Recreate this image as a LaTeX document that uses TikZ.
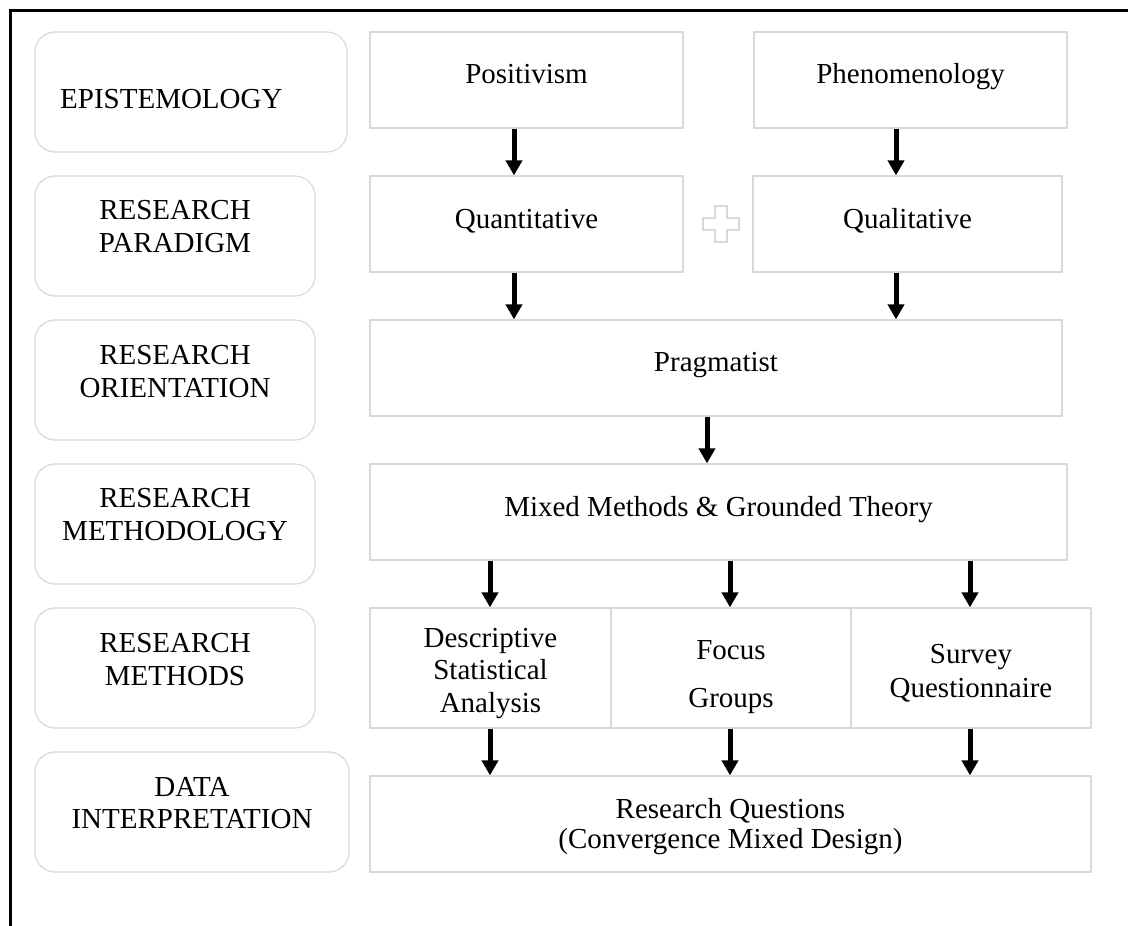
\documentclass[tikz,border=0pt]{standalone}
\usepackage{fontspec}
\setmainfont{Liberation Serif}
\usetikzlibrary{arrows.meta}
\definecolor{boxgray}{RGB}{217,217,217}
\tikzset{
  rbox/.style={draw=boxgray, line width=1.2pt, rounded corners=20pt, inner sep=0pt, fill=white},
  sbox/.style={draw=boxgray, line width=1.2pt, inner sep=0pt, fill=white},
  lbl/.style={inner sep=0pt, align=center, font=\fontsize{29}{33}\selectfont},
  arr/.style={line width=5pt, -{Triangle[length=15pt,width=16pt]}, black},
  frameline/.style={line width=3pt, black}
}
\begin{document}
\begin{tikzpicture}[x=1pt,y=-1pt]
\useasboundingbox (0,0) rectangle (1128,926);
% frame
\coordinate (fa) at (1128,10.5);
\coordinate (fb) at (10.5,10.5);
\coordinate (fc) at (10.5,926);
\draw[frameline] (fa) -- (fb) -- (fc);

% left category boxes
\node[rbox, minimum width=312pt, minimum height=120pt] (epi) at (191,92) {};
\node[rbox, minimum width=280pt, minimum height=120pt] (par) at (175,236) {};
\node[rbox, minimum width=280pt, minimum height=120pt] (ori) at (175,380) {};
\node[rbox, minimum width=280pt, minimum height=120pt] (mth) at (175,524) {};
\node[rbox, minimum width=280pt, minimum height=120pt] (met) at (175,668) {};
\node[rbox, minimum width=314pt, minimum height=120pt] (dat) at (192,812) {};

% (for multi-line labels the base anchor is the baseline of the last line)
\node[lbl, anchor=base west] (tepi) at (60,108) {EPISTEMOLOGY};
\node[lbl, anchor=base] (tpar) at (175,252) {RESEARCH\\PARADIGM};
\node[lbl, anchor=base] (tori) at (175,397) {RESEARCH\\ORIENTATION};
\node[lbl, anchor=base] (tmth) at (175,540) {RESEARCH\\METHODOLOGY};
\node[lbl, anchor=base] (tmet) at (175,685) {RESEARCH\\METHODS};
\node[lbl, anchor=base, font=\fontsize{29}{32}\selectfont] (tdat) at (192,828) {DATA\\INTERPRETATION};

% right boxes
\node[sbox, minimum width=313pt, minimum height=96pt] (pos) at (526.5,80) {};
\node[sbox, minimum width=313pt, minimum height=96pt] (phe) at (910.5,80) {};
\node[sbox, minimum width=313pt, minimum height=96pt] (qnt) at (526.5,224) {};
\node[sbox, minimum width=309pt, minimum height=96pt] (qlt) at (907.5,224) {};
\node[sbox, minimum width=692pt, minimum height=96pt] (pra) at (716,368) {};
\node[sbox, minimum width=697pt, minimum height=96pt] (mix) at (718.5,512) {};
\node[sbox, minimum width=241pt, minimum height=120pt] (des) at (490.5,668) {};
\node[sbox, minimum width=240pt, minimum height=120pt] (foc) at (731,668) {};
\node[sbox, minimum width=240pt, minimum height=120pt] (sur) at (971,668) {};
\node[sbox, minimum width=721pt, minimum height=96pt] (rq) at (730.5,824) {};

\node[lbl, anchor=base] (tpos) at (526.5,83) {Positivism};
\node[lbl, anchor=base] (tphe) at (910.5,83) {Phenomenology};
\node[lbl, anchor=base] (tqnt) at (526.5,228) {Quantitative};
\node[lbl, anchor=base] (tqlt) at (907.5,228) {Qualitative};
\node[lbl, anchor=base] (tpra) at (716,371) {Pragmatist};
\node[lbl, anchor=base] (tmix) at (718.5,516) {Mixed Methods \& Grounded Theory};
\node[lbl, anchor=base, font=\fontsize{29}{32.5}\selectfont] (tdes) at (490.5,712) {Descriptive\\Statistical\\Analysis};
\node[lbl, anchor=base, font=\fontsize{29}{48}\selectfont] (tfoc) at (731,707) {Focus\\Groups};
\node[lbl, anchor=base, font=\fontsize{29}{34}\selectfont] (tsur) at (971,697) {Survey\\Questionnaire};
\node[lbl, anchor=base, font=\fontsize{29}{30}\selectfont] (trq) at (730.5,848) {Research Questions\\(Convergence Mixed Design)};

% plus sign
\draw[boxgray, line width=1.2pt] (715,206) -- (727,206) -- (727,218) -- (739,218) -- (739,230) -- (727,230) -- (727,242) -- (715,242) -- (715,230) -- (703,230) -- (703,218) -- (715,218) -- cycle;

% arrows
\draw[arr] (pos.south -| 514,0) -- (qnt.north -| 514,0);
\draw[arr] (phe.south -| 896,0) -- (qlt.north -| 896,0);
\draw[arr] (qnt.south -| 514,0) -- (pra.north -| 514,0);
\draw[arr] (qlt.south -| 896,0) -- (pra.north -| 896,0);
\draw[arr] (pra.south -| 707,0) -- (mix.north -| 707,0);
\draw[arr] (mix.south -| 490,0) -- (des.north -| 490,0);
\draw[arr] (mix.south -| 730,0) -- (foc.north -| 730,0);
\draw[arr] (mix.south -| 970,0) -- (sur.north -| 970,0);
\draw[arr] (des.south -| 490,0) -- (rq.north -| 490,0);
\draw[arr] (foc.south -| 730,0) -- (rq.north -| 730,0);
\draw[arr] (sur.south -| 970,0) -- (rq.north -| 970,0);
\end{tikzpicture}
\end{document}
